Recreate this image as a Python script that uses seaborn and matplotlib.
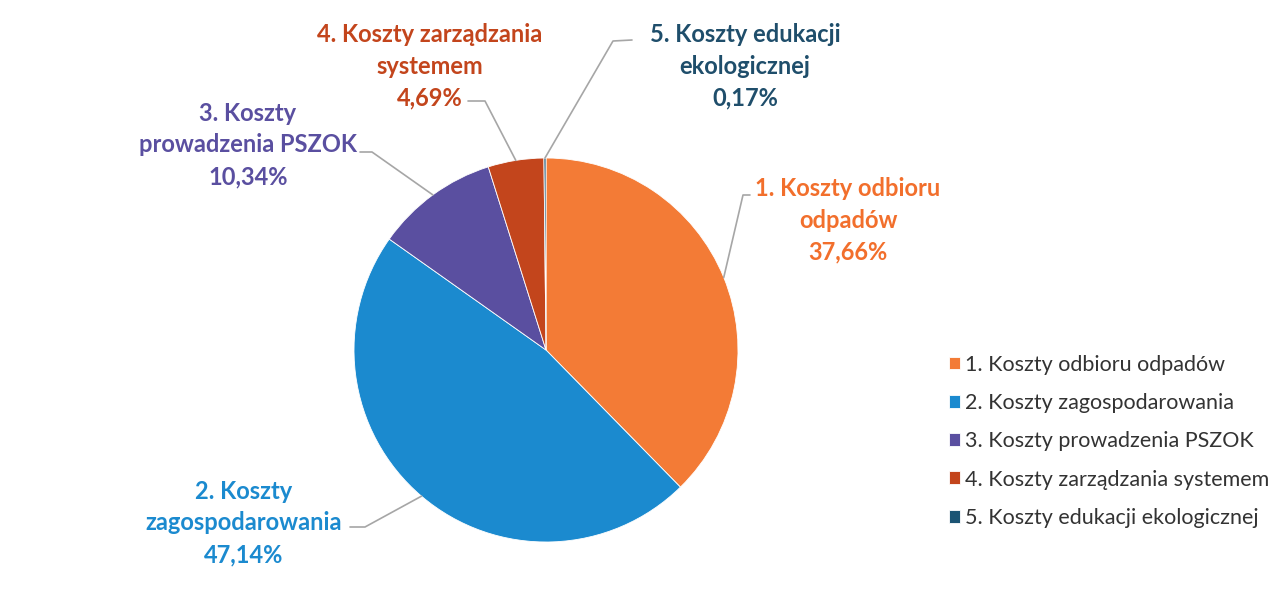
import numpy as np
import seaborn as sns
import matplotlib.pyplot as plt

# === Data ===
categories = [
    "1. Koszty odbioru odpadów",
    "2. Koszty zagospodarowania",
    "3. Koszty prowadzenia PSZOK",
    "4. Koszty zarządzania systemem",
    "5. Koszty edukacji ekologicznej",
]
label_texts = [
    "1. Koszty odbioru\nodpadów",
    "2. Koszty\nzagospodarowania",
    "3. Koszty\nprowadzenia PSZOK",
    "4. Koszty zarządzania\nsystemem",
    "5. Koszty edukacji\nekologicznej",
]
shares = [37.66, 47.14, 10.34, 4.69, 0.17]
colors = ["#F37B36", "#1B8ACF", "#5A4FA0", "#C3451C", "#1B5474"]
text_colors = ["#F26F2C", "#1B8ACF", "#5A4FA0", "#C3451C", "#1F4E6B"]

sns.set_style("white")
plt.rcParams["font.family"] = ["Lato", "DejaVu Sans"]

W, H = 1279, 598
fig = plt.figure(figsize=(W / 100, H / 100), dpi=100)
ax = fig.add_axes([0, 0, 1, 1])

# pie centre / radius in pixels (y measured from bottom)
cx, cy, r = 546, H - 350, 192
wedges, _ = ax.pie(shares, colors=colors, startangle=90, counterclock=False,
                   center=(cx, cy), radius=r, frame=True,
                   wedgeprops=dict(linewidth=0.6, edgecolor="white"))
ax.set_xlim(0, W)
ax.set_ylim(0, H)
ax.set_aspect("equal")
ax.axis("off")

# label placement (pixel coords from top): text centre, leader elbow
label_pos = [(848, 220), (244, 523), (248, 145), (430, 66), (745, 66)]
elbows = [[(750, 195), (743, 195)],
          [(350, 527), (365, 527)],
          [(360, 152), (372, 152)],
          [(468, 101), (485, 101)],
          [(632, 40), (613, 41)]]

cum = np.cumsum([0] + shares)
for i, (txt, val) in enumerate(zip(label_texts, shares)):
    mid = 90 - (cum[i] + val / 2) * 3.6
    ex = cx + r * np.cos(np.radians(mid))
    ey = cy + r * np.sin(np.radians(mid))
    pts = [(x, H - y) for x, y in elbows[i]] + [(ex, ey)]
    ax.plot([p[0] for p in pts], [p[1] for p in pts], color="#A6A6A6", lw=1.2)
    tx, ty = label_pos[i]
    pct = f"{val:.2f}".replace(".", ",") + "%"
    ax.text(tx, H - ty, txt + "\n" + pct,
            ha="center", va="center", fontsize=17, fontweight="bold",
            color=text_colors[i], linespacing=1.45)

leg = ax.legend(wedges, categories, loc="upper left", bbox_to_anchor=(940 / W, 1 - 346 / H),
                frameon=False, fontsize=15.5, handlelength=0.55, handleheight=0.55,
                handletextpad=0.2, labelspacing=0.85, borderaxespad=0)
for t in leg.get_texts():
    t.set_color("#333333")

fig.savefig("out.png", dpi=100)
